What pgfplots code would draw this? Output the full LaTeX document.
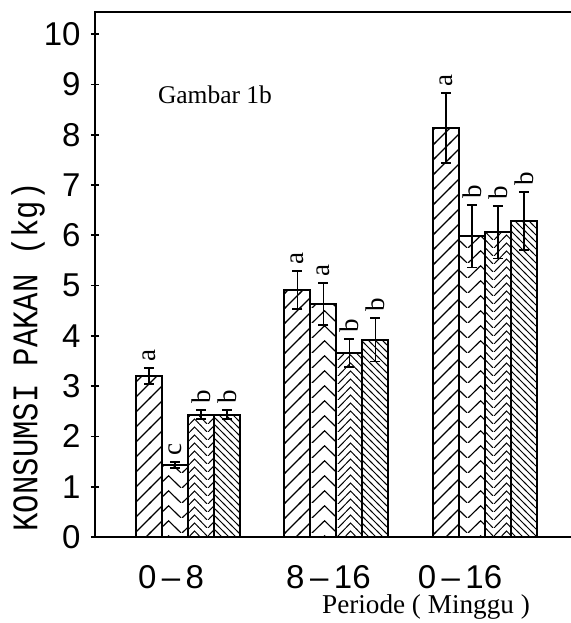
\documentclass[border=0pt]{standalone}
\usepackage{fontspec}
\setmainfont{Liberation Serif}
\newfontfamily\sansf{Liberation Sans}
\newfontfamily\monof[FakeStretch=0.85]{Liberation Mono}
\usepackage{pgfplots}
\pgfplotsset{compat=1.18}
\usetikzlibrary{patterns}

% hatchings of the four treatments
\pgfdeclarepatternformonly{sparse ne}{\pgfqpoint{-1pt}{-1pt}}{\pgfqpoint{8.5pt}{8.5pt}}{\pgfqpoint{7.5pt}{7.5pt}}{%
  \pgfsetlinewidth{0.6pt}%
  \pgfpathmoveto{\pgfqpoint{-0.5pt}{-0.5pt}}\pgfpathlineto{\pgfqpoint{8pt}{8pt}}%
  \pgfusepath{stroke}}
\pgfdeclarepatternformonly{chevron}{\pgfqpoint{0pt}{0pt}}{\pgfqpoint{13pt}{7.5pt}}{\pgfqpoint{13pt}{7.5pt}}{%
  \pgfsetlinewidth{0.6pt}%
  \pgfpathmoveto{\pgfqpoint{0pt}{0pt}}\pgfpathlineto{\pgfqpoint{6.5pt}{6.5pt}}\pgfpathlineto{\pgfqpoint{13pt}{0pt}}%
  \pgfusepath{stroke}}
\pgfdeclarepatternformonly{dense chevron}{\pgfqpoint{0pt}{0pt}}{\pgfqpoint{13pt}{4pt}}{\pgfqpoint{13pt}{4pt}}{%
  \pgfsetlinewidth{0.5pt}%
  \pgfpathmoveto{\pgfqpoint{0pt}{0pt}}\pgfpathlineto{\pgfqpoint{4pt}{4pt}}%
  \pgfpathmoveto{\pgfqpoint{4pt}{0pt}}\pgfpathlineto{\pgfqpoint{6.5pt}{2.5pt}}\pgfpathlineto{\pgfqpoint{9pt}{0pt}}%
  \pgfpathmoveto{\pgfqpoint{13pt}{0pt}}\pgfpathlineto{\pgfqpoint{9pt}{4pt}}%
  \pgfusepath{stroke}}
\pgfdeclarepatternformonly{dense nw}{\pgfqpoint{-1pt}{-1pt}}{\pgfqpoint{4.5pt}{4.5pt}}{\pgfqpoint{3.5pt}{3.5pt}}{%
  \pgfsetlinewidth{0.5pt}%
  \pgfpathmoveto{\pgfqpoint{-0.5pt}{4pt}}\pgfpathlineto{\pgfqpoint{4pt}{-0.5pt}}%
  \pgfusepath{stroke}}

\begin{document}
\begin{tikzpicture}
\pgfplotsset{
  kbar/.style={ybar, bar width=0.175, bar shift=0pt, draw=black, line width=1pt,
    error bars/y dir=both, error bars/y explicit,
    error bars/error bar style={line width=0.9pt, black},
    error bars/error mark options={rotate=90, mark size=2.5pt, line width=0.9pt, black}},
}
\begin{axis}[
  name=ax,
  scale only axis, width=250pt, height=262.5pt,
  xmin=-0.626, xmax=2.741, ymin=0, ymax=10.44,
  axis line style={line width=1.4pt},
  ytick={0,...,10}, tick align=center, major tick length=4pt,
  tick style={line width=0.8pt, black},
  xtick={-0.114,0.946,1.832}, xticklabels={0\,–\,8,8\,–\,16,0\,–\,16},
  x tick style={draw=none},
  ticklabel style={font=\sansf\fontsize{16.5}{17}\selectfont},
  /pgf/number format/assume math mode=true,
  yticklabel style={inner sep=0pt, xshift=-5pt},
  xticklabel style={inner sep=0pt, yshift=-12pt},
  clip=false,
]
\addplot[kbar, pattern=sparse ne] coordinates {
  (-0.2625,3.20) +- (0,0.16)
  (0.7375,4.91)  +- (0,0.38)
  (1.7375,8.13)  +- (0,0.70)
};
\addplot[kbar, pattern=chevron] coordinates {
  (-0.0875,1.43) +- (0,0.06)
  (0.9125,4.63)  +- (0,0.42)
  (1.9125,5.98)  +- (0,0.62)
};
\addplot[kbar, pattern=dense chevron] coordinates {
  (0.0875,2.43) +- (0,0.09)
  (1.0875,3.66) +- (0,0.28)
  (2.0875,6.06) +- (0,0.52)
};
\addplot[kbar, pattern=dense nw] coordinates {
  (0.2625,2.43) +- (0,0.09)
  (1.2625,3.92) +- (0,0.43)
  (2.2625,6.28) +- (0,0.58)
};
% significance letters
\addplot[draw=none, mark=none,
  nodes near coords, point meta=explicit symbolic,
  every node near coord/.append style={rotate=90, anchor=west, inner sep=3pt,
    font=\fontsize{13.5}{14}\selectfont}] coordinates {
  (-0.2625,3.36) [a] (0.7375,5.29) [a] (1.7375,8.83) [a]
  (-0.0875,1.49) [c] (0.9125,5.05) [a] (1.9125,6.60) [b]
  (0.0875,2.52)  [b] (1.0875,3.94) [b] (2.0875,6.58) [b]
  (0.2625,2.52)  [b] (1.2625,4.35) [b] (2.2625,6.86) [b]
};
\node[xshift=-33.5pt, rotate=90, font=\monof\fontsize{18}{18}\selectfont]
  at (rel axis cs:0,0.343) {KONSUMSI PAKAN (kg)};
\node[font=\fontsize{12.75}{13}\selectfont] at (rel axis cs:0.24,0.842) {Gambar 1b};
\node[yshift=-35pt, font=\fontsize{13.6}{14}\selectfont] at (rel axis cs:0.662,0) {Periode ( Minggu )};
\end{axis}
\pgfresetboundingbox
\path[use as bounding box] ([shift={(-47.5pt,-43pt)}]ax.south west) rectangle ([shift={(237.5pt,268.5pt)}]ax.south west);
\end{tikzpicture}
\end{document}
